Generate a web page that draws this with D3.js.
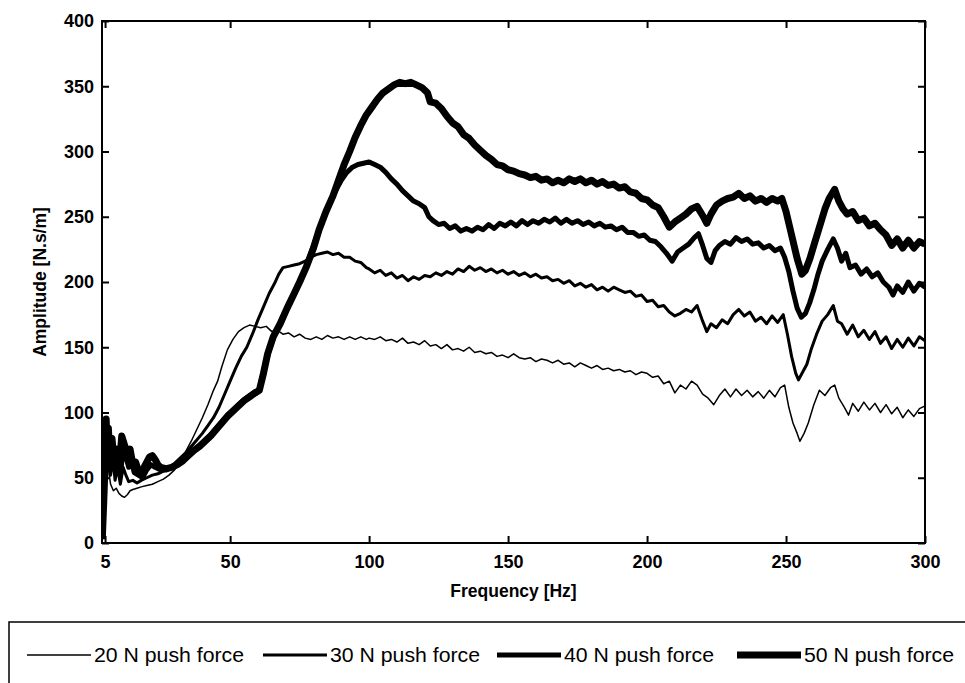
<!DOCTYPE html>
<html lang="en">
<head>
    <meta charset="utf-8">
    <title>Amplitude vs Frequency</title>
    <style>
        body {
            margin: 0;
            background: #fff;
        }

        .tick text {
            font: bold 18px "Liberation Sans", Arial, sans-serif;
        }

        .axis-title {
            font: bold 17.5px "Liberation Sans", Arial, sans-serif;
        }

        .legend text {
            font: 20px "Liberation Sans", Arial, sans-serif;
        }
    </style>
</head>
<body>
<script src="https://cdn.jsdelivr.net/npm/d3@7/dist/d3.min.js"></script>
<script>
    // values: [frequency Hz, amplitude N.s/m]
    const force20 = [[4,3],[4.5,22],[5,50],[5.4,78],[5.8,65],[6.3,55],[7,45],[8,40],[9,42],[10,38],[11,36],[12,35],[13,37],[14,40],[15,41],[16.5,42],[18,43],[20,44],[22,45],[24,47],[26,49],[28,52],[30,56],[32,62],[34,70],[36,78],[38,87],[40,96],[42,106],[44,117],[45.5,124],[47,135],[49,148],[51,156],[53,162],[55,165],[57,167],[59,166],[61,165],[63,166],[65,162],[67,163],[69,160],[71,161],[73,158],[75,160],[77,157],[79,156],[81,158],[83,156],[85,159],[87,157],[89,158],[91,156],[93,158],[95,156],[97,158],[99,156],
        [100,157],[102,156],[104,158],[106,155],[108,156],[110,154],[112,157],[114,153],[116,154],[118,152],[120,155],[122,151],[124,152],[126,149],[128,152],[130,148],[132,149],[134,147],[136,150],[138,146],[140,147],[142,145],[144,146],[146,143],[148,144],[150,142],[152,145],[154,142],[156,141],[158,142],[160,139],[162,141],[164,140],[166,138],[168,140],[170,137],[172,138],[174,135],[176,138],[178,136],[180,134],[182,136],[184,133],[186,134],[188,132],[190,133],[192,131],[194,132],[196,129],[198,131],[200,130],[202,127],[204,128],[206,122],[208,124],[210,115],[212,121],[214,118],[216,124],[218,121],[220,114],[222,111],[224,106],[226,113],[228,118],[230,112],[232,118],[234,113],[236,117],[238,112],[240,116],[242,111],[244,117],[246,112],[248,119],[249.5,121],[251,104],[252.5,92],[254,84],[255,78],[256.5,84],[258,92],[260,106],[262,117],[264,113],[266,119],[267.5,121],[269,111],[271,104],[272.5,98],[274,107],[276,101],[278,108],[280,102],[282,107],[284,100],[286,106],[288,99],[290,104],[292,96],[294,102],[296,97],[298,103],[300,105]];

    const force30 = [[4,3],[4.5,25],[5,55],[5.4,85],[5.8,60],[6.3,75],[7,52],[7.8,66],[8.6,48],[9.5,58],[10.5,45],[11.5,58],[12.5,52],[13.5,47],[15,48],[16.5,46],[18,48],[20,50],[22,52],[24,53],[26,55],[28,58],[30,61],[32,65],[34,69],[36,74],[38,79],[40,84],[42,90],[44,96],[46,104],[48,114],[50,124],[52,134],[54,143],[56,150],[58,160],[60,171],[62,181],[64,191],[66,199],[67.5,206],[69,211],[71,212],[73,213],[75,214],[77,216],[79,219],[81,221],[83,222],[85,223],[87,221],[89,222],[91,219],[93,219],[95,216],[97,215],[99,211],
        [100,210],[102,207],[104,209],[106,205],[108,207],[110,203],[112,205],[114,201],[116,204],[118,202],[120,205],[122,204],[124,207],[126,205],[128,208],[130,206],[132,210],[134,208],[136,212],[138,209],[140,211],[142,208],[144,210],[146,207],[148,209],[150,206],[152,208],[154,205],[156,207],[158,204],[160,206],[162,203],[164,204],[166,201],[168,202],[170,199],[172,201],[174,197],[176,199],[178,196],[180,198],[182,194],[184,196],[186,193],[188,196],[190,194],[192,192],[194,193],[196,189],[198,190],[200,185],[202,186],[204,181],[206,182],[208,177],[210,174],[212,176],[214,179],[216,177],[218,182],[220,170],[221.5,162],[223,168],[225,165],[227,171],[229,168],[231,175],[233,179],[235,174],[237,177],[239,170],[241,173],[243,168],[245,174],[247,169],[249,175],[250.5,160],[252,143],[253.5,130],[254.5,125],[256,131],[257.5,137],[259,148],[261,160],[263,170],[265,175],[267,182],[268.5,170],[270,168],[272,160],[274,167],[276,158],[278,163],[280,156],[282,162],[284,153],[286,158],[288,149],[290,156],[292,150],[294,157],[296,151],[298,158],[300,155]];

    const force40 = [[4,3],[4.5,28],[5,58],[5.4,90],[5.8,65],[6.3,82],[7,58],[7.8,74],[8.6,55],[9.5,65],[10.5,52],[11.5,72],[12.5,66],[13.5,58],[14.5,62],[15.5,54],[17,52],[18.5,50],[20,56],[21.5,60],[23,58],[25,56],[27,56],[29,58],[31,60],[33,63],[35,67],[37,71],[39,75],[41,79],[43,83],[45,88],[47,93],[49,98],[51,102],[53,106],[55,110],[57,113],[59,116],[60.5,118],[62,132],[64,147],[66,160],[68.5,170],[71,182],[73.5,193],[76,205],[78,216],[80,228],[82,240],[84,251],[86,261],[88,270],[90,278],[92,284],[94,288],[96,290],[98,291],[100,292],[102,290],[104,288],[106,284],[108,279],[110,275],[112,270],[114,266],[116,262],
        [118,260],[120,257],[121.5,250],[123,247],[125,244],[127,245],[129,241],[131,243],[133,239],[135,241],[137,239],[139,242],[141,240],[143,244],[145,241],[147,245],[149,243],[151,246],[153,243],[155,247],[157,244],[159,247],[161,245],[163,248],[165,246],[167,249],[169,245],[171,248],[173,245],[175,247],[177,244],[179,246],[181,243],[183,245],[185,242],[187,243],[189,240],[191,242],[193,238],[195,238],[197,235],[199,236],[201,232],[203,231],[205,227],[207,222],[209,216],[211,223],[213,226],[215,229],[217,234],[218.5,237],[220,228],[221.5,218],[223,215],[224.5,224],[226,228],[228,231],[230,229],[232,234],[234,231],[236,233],[238,229],[240,230],[242,226],[244,228],[246,224],[248,226],[249.5,219],[251,208],[252.5,193],[254,180],[255.5,173],[257,176],[258.5,184],[260,194],[261.5,206],[263,216],[265,225],[267,233],[268.5,226],[270,216],[271.5,222],[273,211],[275,213],[277,206],[279,210],[281,204],[283,207],[285,200],[287,196],[288.5,190],[290,197],[292,192],[294,200],[296,193],[298,199],[300,196]];

    const force50 = [[4,3],[4.5,30],[5,60],[5.4,95],[5.8,70],[6.2,88],[6.8,62],[7.5,80],[8.3,60],[9,72],[10,55],[11,82],[12,75],[13,68],[14,72],[15,60],[16,62],[17,55],[18,52],[19,58],[20,62],[21,66],[22,67],[23,64],[24,60],[25,58],[27,57],[29,58],[31,60],[33,63],[35,67],[37,71],[39,74],[41,78],[43,82],[45,87],[47,92],[49,97],[51,101],[53,105],[55,109],[57,112],[59,115],[60.5,117],[62,130],[63.5,145],[65.5,158],[68,168],[70.5,180],[73,191],[75,200],[77.5,212],[80,226],[82,240],[84.5,254],[87,266],[89,278],[91,290],[93,300],[95,311],[97,320],[99,328],[101,334],[103,340],[105,345],[107,348],[109,351],[111,353],[113,352],[115,353],[117,351],
        [119,349],[121,345],[122,338],[124,337],[126,333],[128,327],[130,322],[132,319],[134,313],[136,310],[138,305],[140,301],[142,297],[144,294],[146,290],[148,289],[150,286],[152,285],[154,283],[156,282],[158,280],[160,281],[162,278],[164,279],[166,276],[168,278],[170,276],[172,279],[174,277],[176,279],[178,276],[180,278],[182,275],[184,277],[186,274],[188,275],[190,272],[192,273],[194,269],[196,268],[198,264],[200,263],[202,259],[204,257],[206,250],[208,242],[210,246],[212,249],[214,252],[216,256],[218,258],[220,251],[221.5,245],[223,252],[225,259],[227,262],[229,264],[231,265],[233,268],[235,264],[237,266],[239,262],[241,264],[243,261],[245,264],[247,262],[248.5,264],[250,254],[252,236],[254,218],[255.7,206],[257,209],[258.6,218],[260,228],[262,242],[264,256],[265.5,264],[267.5,271],[269,262],[270.5,256],[272,252],[274,254],[276,247],[278,249],[280,243],[282,245],[284,240],[286,236],[288,228],[290,233],[292,226],[294,232],[296,226],[298,231],[300,229]];

    const seriesNames = ["20 N push force", "30 N push force", "40 N push force", "50 N push force"];
    const seriesData = [force20, force30, force40, force50];
    const lineWidths = [1.5, 3, 5, 7];

    const xTicks = [5, 50, 100, 150, 200, 250, 300];
    const yTicks = [0, 50, 100, 150, 200, 250, 300, 350, 400];

    const width = 965;
    const height = 683;
    const plot = {left: 102, right: 925, top: 21, bottom: 543};

    const svg = d3.select("body").append("svg")
        .attr("width", width)
        .attr("height", height);

    const x = d3.scaleLinear().domain([3.9, 300]).range([plot.left, plot.right]);
    const y = d3.scaleLinear().domain([0, 400]).range([plot.bottom, plot.top]);

    // clip so the lines never spill over the frame
    svg.append("clipPath").attr("id", "clip")
        .append("rect")
        .attr("x", plot.left).attr("y", plot.top)
        .attr("width", plot.right - plot.left).attr("height", plot.bottom - plot.top);

    const line = d3.line().x(d => x(d[0])).y(d => y(d[1]));

    svg.append("g")
        .attr("clip-path", "url(#clip)")
        .selectAll("path")
        .data(seriesData)
        .join("path")
        .attr("fill", "none")
        .attr("stroke", "#000")
        .attr("stroke-linejoin", "round")
        .attr("stroke-width", (d, i) => lineWidths[i])
        .attr("d", line);

    // axes, matlab style: ticks pointing inwards on all four sides
    const tickLen = 7;
    svg.append("g")
        .attr("transform", `translate(0,${plot.bottom})`)
        .call(d3.axisBottom(x).tickValues(xTicks).tickSizeInner(-tickLen).tickSizeOuter(0).tickPadding(12))
        .call(g => g.select(".domain").remove());
    svg.append("g")
        .attr("transform", `translate(${plot.left},0)`)
        .call(d3.axisLeft(y).tickValues(yTicks).tickSizeInner(-tickLen).tickSizeOuter(0).tickPadding(8))
        .call(g => g.select(".domain").remove());
    svg.append("g")
        .attr("transform", `translate(0,${plot.top})`)
        .call(d3.axisTop(x).tickValues(xTicks).tickSizeInner(-tickLen).tickSizeOuter(0).tickFormat(""))
        .call(g => g.select(".domain").remove());
    svg.append("g")
        .attr("transform", `translate(${plot.right},0)`)
        .call(d3.axisRight(y).tickValues(yTicks).tickSizeInner(-tickLen).tickSizeOuter(0).tickFormat(""))
        .call(g => g.select(".domain").remove());

    svg.selectAll(".tick line").attr("stroke", "#000").attr("stroke-width", 2);
    svg.selectAll(".tick text").attr("fill", "#000");

    svg.append("rect")
        .attr("x", plot.left).attr("y", plot.top)
        .attr("width", plot.right - plot.left).attr("height", plot.bottom - plot.top)
        .attr("fill", "none")
        .attr("stroke", "#000")
        .attr("stroke-width", 2);

    svg.append("text")
        .attr("class", "axis-title")
        .attr("x", (plot.left + plot.right) / 2)
        .attr("y", 597)
        .attr("text-anchor", "middle")
        .text("Frequency [Hz]");

    svg.append("text")
        .attr("class", "axis-title")
        .attr("transform", `translate(46,${(plot.top + plot.bottom) / 2}) rotate(-90)`)
        .attr("text-anchor", "middle")
        .text("Amplitude [N.s/m]");

    // legend box, runs off the bottom and right of the picture
    const legend = svg.append("g").attr("class", "legend");
    legend.append("rect")
        .attr("x", 9).attr("y", 622)
        .attr("width", 970).attr("height", 80)
        .attr("fill", "#fff")
        .attr("stroke", "#000")
        .attr("stroke-width", 1.5);

    const legendX = [27, 263, 497, 737];
    const item = legend.selectAll("g.item")
        .data(seriesNames)
        .join("g")
        .attr("class", "item")
        .attr("transform", (d, i) => `translate(${legendX[i]},655)`);
    item.append("line")
        .attr("x1", 0).attr("x2", 64)
        .attr("stroke", "#000")
        .attr("stroke-width", (d, i) => lineWidths[i]);
    item.append("text")
        .attr("x", 67)
        .attr("dy", "0.36em")
        .attr("textLength", 150)
        .attr("lengthAdjust", "spacingAndGlyphs")
        .text(d => d);
</script>
</body>
</html>
